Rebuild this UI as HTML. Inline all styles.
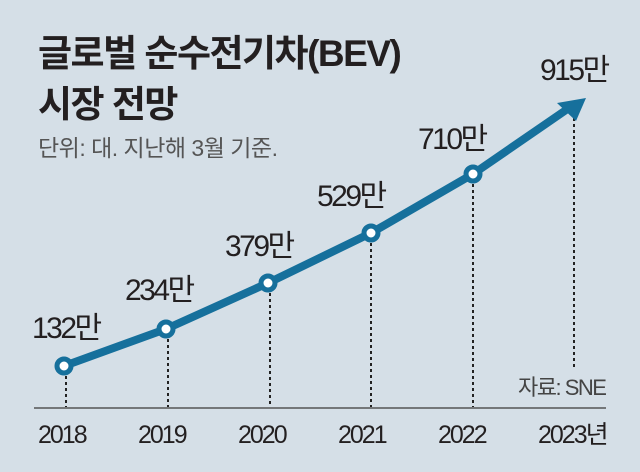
<!DOCTYPE html>
<html><head><meta charset="utf-8"><style>
body{margin:0;background:#d5dfe7;}
svg{display:block}
text{font-family:"Liberation Sans","Noto Sans CJK KR",sans-serif;}
</style></head><body>
<svg width="640" height="472" viewBox="0 0 640 472">
<rect width="640" height="472" fill="#d5dfe7"/>
<text x="38" y="66" font-size="37" font-weight="bold" fill="#231f20" letter-spacing="-1.5">글로벌 순수전기차(BEV)</text>
<text x="38" y="117" font-size="37" font-weight="bold" fill="#231f20" letter-spacing="-1.5">시장 전망</text>
<text x="38" y="156" font-size="23" fill="#555" letter-spacing="-0.5">단위: 대. 지난해 3월 기준.</text>
<g stroke="#222" stroke-width="2" stroke-dasharray="3,3">
<line x1="66" y1="376" x2="66" y2="407"/>
<line x1="168" y1="339" x2="168" y2="407"/>
<line x1="270" y1="293" x2="270" y2="407"/>
<line x1="371" y1="243" x2="371" y2="407"/>
<line x1="473" y1="184" x2="473" y2="407"/>
<line x1="574" y1="118" x2="574" y2="370"/>
</g>
<line x1="34" y1="408" x2="606" y2="408" stroke="#555" stroke-width="1.5"/>
<polyline points="64,366 166,329 268,283 371,233 473,174 566,110" fill="none" stroke="#16709c" stroke-width="8" stroke-linejoin="round"/>
<polygon points="586,98 557,103 576,121" fill="#16709c"/>
<g fill="#fff" stroke="#16709c" stroke-width="5">
<circle cx="64" cy="366" r="7"/><circle cx="166" cy="329" r="7"/><circle cx="268" cy="283" r="7"/>
<circle cx="371" cy="233" r="7"/><circle cx="473" cy="174" r="7"/>
</g>
<g font-size="30" fill="#231f20" letter-spacing="-2.5">
<text x="32" y="338">132만</text>
<text x="125" y="300">234만</text>
<text x="225" y="256">379만</text>
<text x="317" y="206">529만</text>
<text x="418" y="149">710만</text>
<text x="540" y="80">915만</text>
</g>
<text x="518" y="395" font-size="22" fill="#444" letter-spacing="-1.5">자료: SNE</text>
<g font-size="25" fill="#231f20" letter-spacing="-2">
<text x="38" y="443">2018</text>
<text x="138" y="443">2019</text>
<text x="238" y="443">2020</text>
<text x="338" y="443">2021</text>
<text x="438" y="443">2022</text>
<text x="538" y="443">2023년</text>
</g>
</svg>
</body></html>
